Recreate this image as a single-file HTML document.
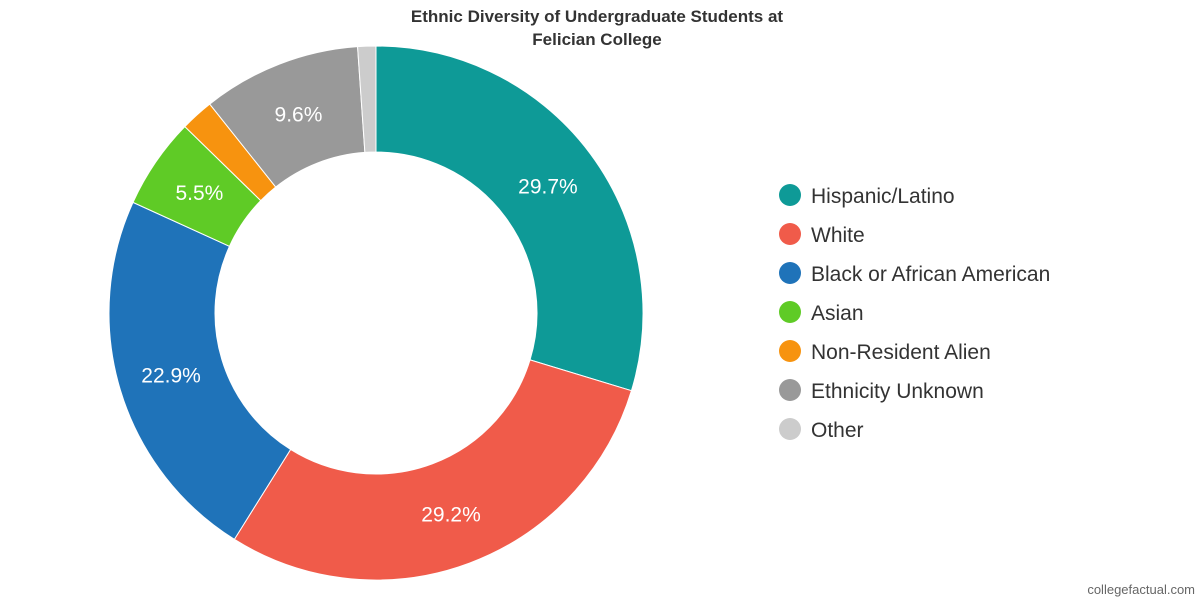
<!DOCTYPE html>
<html><head><meta charset="utf-8"><style>
body{margin:0;background:#fff;width:1200px;height:600px;overflow:hidden;font-family:"Liberation Sans",sans-serif}
</style></head><body>
<svg width="1200" height="600">
<text x="597" y="22" text-anchor="middle" font-size="17" font-weight="bold" fill="#333">Ethnic Diversity of Undergraduate Students at</text>
<text x="597" y="45" text-anchor="middle" font-size="17" font-weight="bold" fill="#333">Felician College</text>
<g id="slices"></g><g id="legend"></g>
<text x="1195" y="594" text-anchor="end" font-size="13" fill="#666">collegefactual.com</text>
</svg>
<script>
const categories=["Hispanic/Latino","White","Black or African American","Asian","Non-Resident Alien","Ethnicity Unknown","Other"];
const values=[29.7,29.2,22.9,5.5,2.0,9.6,1.1];
const labels=["29.7%","29.2%","22.9%","5.5%","","9.6%",""];
const colors=["#0e9a97","#f05b4a","#1f73b9","#5fcb26","#f7930f","#999999","#cccccc"];
const cx=376,cy=313,R=267,r=161,NS="http://www.w3.org/2000/svg";
const total=values.reduce((a,b)=>a+b,0);
const g=document.getElementById('slices'),lg=document.getElementById('legend');
function pt(a,rad){return [cx+rad*Math.sin(a),cy-rad*Math.cos(a)];}
let a0=0;
values.forEach((v,i)=>{
 const a1=a0+v/total*2*Math.PI,lf=(a1-a0)>Math.PI?1:0;
 const p1=pt(a0,R),p2=pt(a1,R),p3=pt(a1,r),p4=pt(a0,r);
 const p=document.createElementNS(NS,'path');
 p.setAttribute('d',`M${p1}A${R},${R} 0 ${lf} 1 ${p2}L${p3}A${r},${r} 0 ${lf} 0 ${p4}Z`);
 p.setAttribute('fill',colors[i]);p.setAttribute('stroke','#fff');p.setAttribute('stroke-width','1');
 
 
 g.appendChild(p);
 if(labels[i]){const m=pt((a0+a1)/2,(R+r)/2);const t=document.createElementNS(NS,'text');
  t.setAttribute('x',m[0]);t.setAttribute('y',m[1]+8);t.setAttribute('text-anchor','middle');
  t.setAttribute('font-size','21');t.setAttribute('fill','#fff');t.textContent=labels[i];
  
  
  g.appendChild(t);}
 a0=a1;
 const y=195+i*39;
 const c=document.createElementNS(NS,'circle');c.setAttribute('cx',790);c.setAttribute('cy',y);c.setAttribute('r',11);c.setAttribute('fill',colors[i]);
 
 
 lg.appendChild(c);
 const t=document.createElementNS(NS,'text');t.setAttribute('x',811);t.setAttribute('y',y+8);t.setAttribute('font-size','21');t.setAttribute('fill','#333');t.textContent=categories[i];
 
 
 lg.appendChild(t);
});
</script>
</body></html>
